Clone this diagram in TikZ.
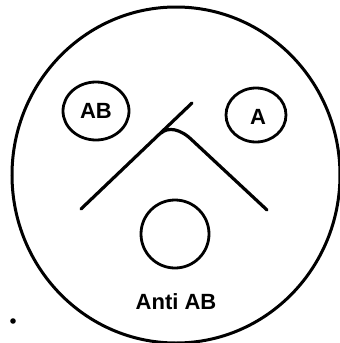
\documentclass[tikz,border=0pt]{standalone}
\usepackage{fontspec}
\setmainfont{Liberation Sans}
\usepackage{tikz}
\usetikzlibrary{shapes.geometric}

\begin{document}
\begin{tikzpicture}[x=1pt,y=-1pt]
      \useasboundingbox (0,0) rectangle (340,343);
      % Plate
      \draw[line width=3pt] (176,175) ellipse (164 and 168);
      
      % Wells
      \node[draw, ellipse, line width=2.8pt, minimum width=66pt, minimum height=58pt] (wellAB) at (96,111) {};
      \node[draw, ellipse, line width=2.8pt, minimum width=60pt, minimum height=54pt] (wellA) at (256,115) {};
      \node[draw, circle, line width=2.8pt, minimum size=68pt] (wellanti) at (175,234) {};
      
      % Labels
      \node[font=\bfseries\fontsize{22}{24}\selectfont] (labAB) at (wellAB) {AB};
      \node[font=\bfseries\fontsize{22}{24}\selectfont] (labA) at (258,117) {A};
      \node[font=\bfseries\fontsize{22}{24}\selectfont] (labanti) at (176,302) {Anti AB};
      
      % Mixing sticks
      \coordinate (s1) at (81,209);
      \coordinate (s2) at (192,103);
      \coordinate (j) at (161,133);
      \coordinate (s3) at (267,210);
      \draw[line width=3.2pt, line cap=round] (s1) -- (s2);
      \draw[line width=3.2pt, line cap=round] (j) .. controls (168,127) and (180,128) .. (193,141) -- (s3);
      
      % Speck
      \fill (13,321) circle (2.8);
    \end{tikzpicture}
\end{document}
